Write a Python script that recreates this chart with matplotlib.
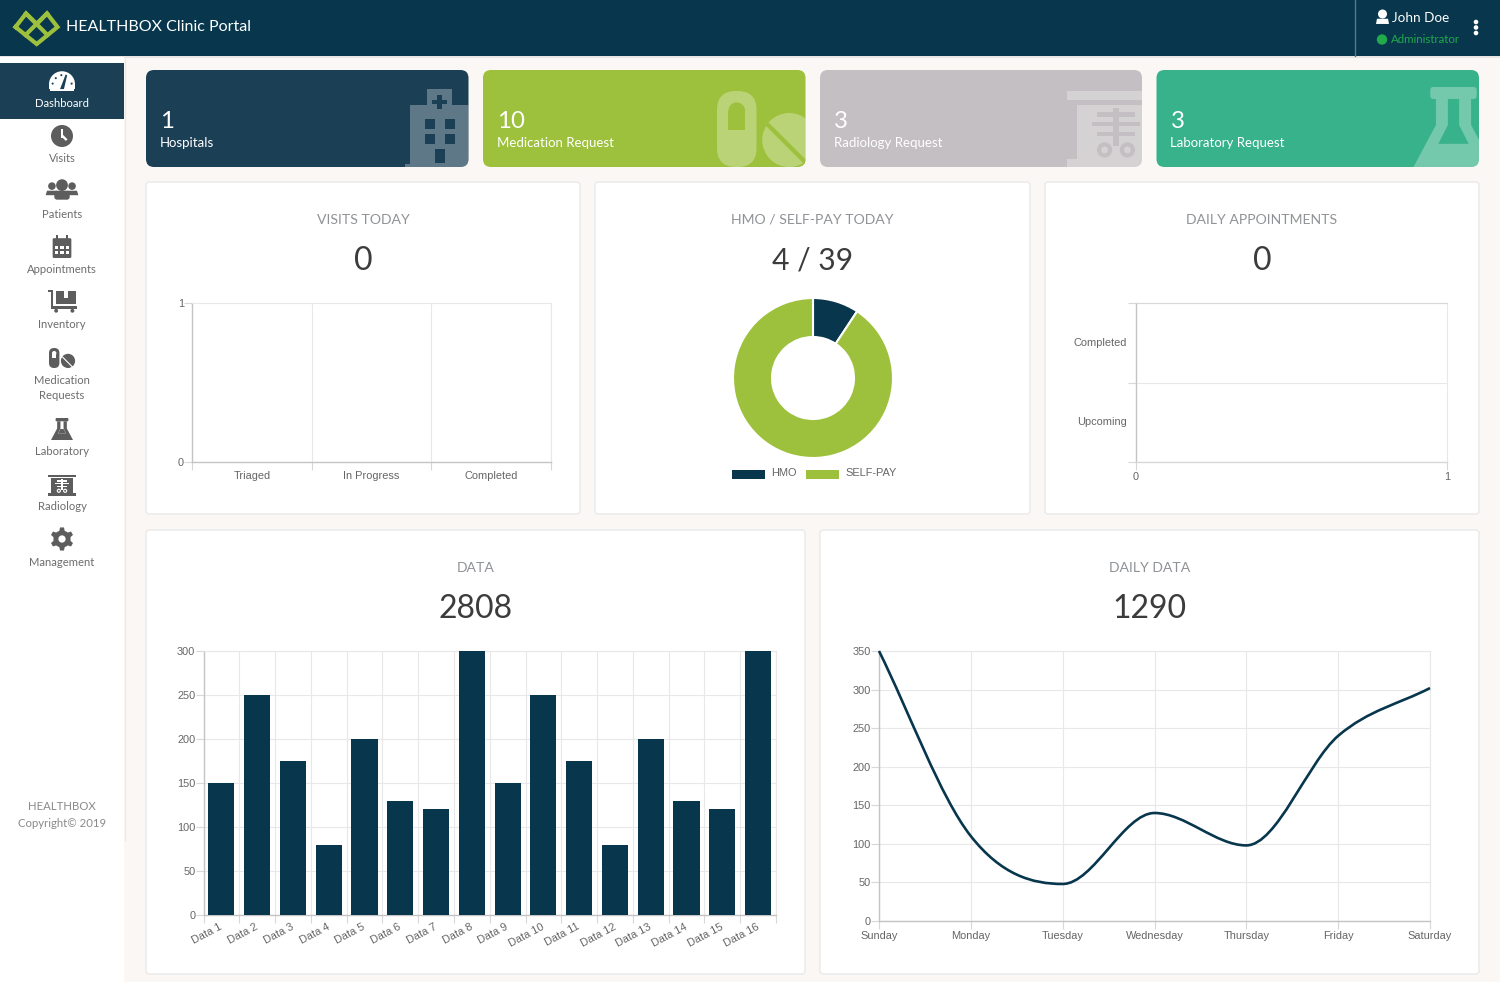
import numpy as np
import matplotlib
matplotlib.use("Agg")
import matplotlib.pyplot as plt
from matplotlib.patches import FancyBboxPatch, Rectangle, Circle, Polygon, Wedge, PathPatch
from matplotlib.path import Path

W, H = 1500, 982
NAVY = "#07364d"
CARD_NAVY = "#1b3f55"
GREEN = "#9dc13c"
GRID = "#e8e8e8"
AXIS = "#c4c4c4"
TICK = "#666666"
UI_FONT = "Lato"
CHART_FONT = "Liberation Sans"

# chart data
visit_labels = ["Triaged", "In Progress", "Completed"]
visit_values = [0, 0, 0]
pay_labels = ["HMO", "SELF-PAY"]
pay_values = [4, 39]
appt_labels = ["Completed", "Upcoming"]
appt_values = [0, 0]
data_labels = ["Data %d" % i for i in range(1, 17)]
data_values = [150, 250, 175, 80, 200, 130, 120, 300, 150, 250, 175, 80, 200, 130, 120, 300]
daily_labels = ["Sunday", "Monday", "Tuesday", "Wednesday", "Thursday", "Friday", "Saturday"]
daily_values = [350, 110, 48, 140, 98, 240, 302]

# page text
card_numbers = ["1", "10", "3", "3"]
card_names = ["Hospitals", "Medication Request", "Radiology Request", "Laboratory Request"]
menu_names = ["Dashboard", "Visits", "Patients", "Appointments", "Inventory",
              "Medication\nRequests", "Laboratory", "Radiology", "Management"]

fig = plt.figure(figsize=(W / 100, H / 100), dpi=100, facecolor="#fbf7f4")
page = fig.add_axes([0, 0, 1, 1])
page.set_xlim(0, W)
page.set_ylim(H, 0)
page.axis("off")


def px(size):
    return size * 0.72


def chart_axes(left, top, right, bottom):
    ax = fig.add_axes([left / W, 1 - bottom / H, (right - left) / W, (bottom - top) / H])
    ax.set_facecolor("none")
    ax.grid(True, color=GRID, lw=0.8)
    ax.set_axisbelow(True)
    for side in ["top", "right"]:
        ax.spines[side].set_color(GRID)
        ax.spines[side].set_linewidth(0.8)
    for side in ["left", "bottom"]:
        ax.spines[side].set_color(AXIS)
        ax.spines[side].set_linewidth(1.0)
    ax.tick_params(colors="#d8d8d8", labelcolor=TICK, labelsize=px(11), length=px(8), width=0.8, pad=1)
    ax.tick_params(axis="y", pad=0)
    ax.tick_params(axis="x", pad=1.7)
    return ax


def tick_font(ax):
    for t in ax.get_xticklabels() + ax.get_yticklabels():
        t.set_fontfamily(CHART_FONT)


def box(x0, y0, x1, y1, color, r=6, ec="none", lw=0, z=1):
    p = FancyBboxPatch((x0 + r, y0 + r), x1 - x0 - 2 * r, y1 - y0 - 2 * r,
                       boxstyle="round,pad=%s,rounding_size=%s" % (r, r),
                       fc=color, ec=ec, lw=lw, zorder=z)
    page.add_patch(p)
    return p


def ui_text(x, y, s, size, color, ha="center", weight="normal", font=UI_FONT, z=5):
    if font == UI_FONT:
        y = y + 0.08 * size
    page.text(x, y, s, fontsize=px(size), color=color, ha=ha, va="center",
              fontfamily=font, fontweight=weight, zorder=z)


# every icon is drawn around (cx, cy), s is half the icon height in pixels
def add(patch, clip, alpha):
    patch.set_zorder(3)
    if alpha is not None:
        patch.set_alpha(alpha)
    page.add_patch(patch)
    if clip is not None:
        patch.set_clip_path(clip)
    return patch


def rect(cx, cy, s, x0, y0, x1, y1, c, clip=None, alpha=None):
    return add(Rectangle((cx + x0 * s, cy + y0 * s), (x1 - x0) * s, (y1 - y0) * s, fc=c, ec="none"), clip, alpha)


def circ(cx, cy, s, x, y, r, c, clip=None, alpha=None):
    return add(Circle((cx + x * s, cy + y * s), r * s, fc=c, ec="none"), clip, alpha)


def poly(cx, cy, s, pts, c, clip=None, alpha=None):
    return add(Polygon([(cx + a * s, cy + b * s) for a, b in pts], closed=True, fc=c, ec="none"), clip, alpha)


def icon_gauge(cx, cy, s, c, bg):
    add(Wedge((cx, cy + 0.25 * s), s, 180, 360, fc=c, ec="none"), None, None)
    rect(cx, cy, s, -1, 0.24, 1, 0.62, c)
    rect(cx, cy, s, -0.9, 0.6, 0.9, 0.8, c)
    for a, b in [(-0.72, 0.2), (-0.48, -0.22), (-0.05, -0.45), (0.74, 0.2)]:
        circ(cx, cy, s, a, b, 0.08, bg)
    poly(cx, cy, s, [(0.28, -0.5), (0.4, -0.45), (0.15, 0.62), (-0.15, 0.62)], bg)


def icon_clock(cx, cy, s, c, bg):
    circ(cx, cy, s, 0, 0, 1, c)
    rect(cx, cy, s, -0.1, -0.6, 0.12, 0.15, bg)
    poly(cx, cy, s, [(-0.1, 0.0), (0.1, -0.1), (0.5, 0.3), (0.35, 0.45)], bg)


def icon_users(cx, cy, s, c, bg):
    for a in [-0.72, 0.72]:
        circ(cx, cy, s, a, -0.35, 0.27, c)
        poly(cx, cy, s, [(a - 0.45, 0.3), (a - 0.35, -0.02), (a + 0.35, -0.02), (a + 0.45, 0.3)], c)
    circ(cx, cy, s, 0, -0.42, 0.42, c)
    box(cx - 0.55 * s, cy - 0.02 * s, cx + 0.55 * s, cy + 0.62 * s, c, r=0.2 * s, z=3)


def icon_calendar(cx, cy, s, c, bg):
    box(cx - 0.85 * s, cy - 0.8 * s, cx + 0.85 * s, cy + 1.0 * s, c, r=0.12 * s, z=3)
    rect(cx, cy, s, -0.55, -1.05, -0.35, -0.6, c)
    rect(cx, cy, s, 0.35, -1.05, 0.55, -0.6, c)
    for a in [-0.48, 0.0, 0.48]:
        for b in [0.05, 0.5]:
            rect(cx, cy, s, a - 0.14, b - 0.12, a + 0.14, b + 0.12, bg)


def icon_cart(cx, cy, s, c, bg):
    rect(cx, cy, s, -1.1, -0.85, -0.75, -0.72, c)
    rect(cx, cy, s, -0.85, -0.85, -0.68, 0.55, c)
    rect(cx, cy, s, -0.85, 0.42, 1.15, 0.58, c)
    rect(cx, cy, s, -0.45, -0.75, 1.05, 0.25, c)
    rect(cx, cy, s, 0.15, -0.75, 0.45, -0.25, bg)
    circ(cx, cy, s, -0.45, 0.75, 0.15, c)
    circ(cx, cy, s, 0.8, 0.75, 0.15, c)


def icon_pills(cx, cy, s, c, bg, clip=None, alpha=None):
    cap = box(cx - 1.3 * s, cy - s, cx - 0.26 * s, cy + s, c, r=0.5 * s, z=3)
    if clip is not None:
        cap.set_clip_path(clip)
        cap.set_alpha(alpha)
    circ(cx, cy, s, -0.78, -0.48, 0.22, bg, clip)
    rect(cx, cy, s, -1.0, -0.48, -0.56, 0.03, bg, clip)
    circ(cx, cy, s, 0.6, 0.29, 0.71, c, clip, alpha)
    poly(cx, cy, s, [(-0.02, -0.09), (0.06, -0.17), (1.11, 0.88), (1.03, 0.96)], bg, clip)


def icon_flask(cx, cy, s, c, bg, clip=None, alpha=None):
    rim = box(cx - 0.58 * s, cy - s, cx + 0.58 * s, cy - 0.7 * s, c, r=0.08 * s, z=3)
    if clip is not None:
        rim.set_clip_path(clip)
        rim.set_alpha(alpha)
    poly(cx, cy, s, [(-0.44, -0.7), (-0.44, -0.05), (-1.0, 1.0), (1.0, 1.0), (0.44, -0.05), (0.44, -0.7),
                     (0.14, -0.7), (0.14, -0.05), (0.38, 0.42), (-0.38, 0.42), (-0.14, -0.05), (-0.14, -0.7)],
         c, clip, alpha)
    if clip is None:
        poly(cx, cy, s, [(-0.38, 0.42), (-0.14, 0.0), (0.14, 0.0), (0.38, 0.42)], c)


def icon_xray(cx, cy, s, c, bg, clip=None, alpha=None):
    rect(cx, cy, s, -1.29, -1.0, 1.29, -0.76, c, clip, alpha)
    rect(cx, cy, s, -1.03, -0.63, 1.03, 0.8, c, clip, alpha)
    rect(cx, cy, s, -1.29, 0.8, 1.29, 1.0, c, clip, alpha)
    rect(cx, cy, s, -0.08, -0.55, 0.08, 0.45, bg, clip)
    for b, w in [(-0.38, 0.5), (-0.13, 0.63), (0.13, 0.5)]:
        rect(cx, cy, s, -w, b - 0.06, w, b + 0.06, bg, clip)
    for a in [-0.3, 0.3]:
        circ(cx, cy, s, a, 0.55, 0.2, bg, clip)
        circ(cx, cy, s, a, 0.55, 0.09, c, clip, alpha)


def icon_gear(cx, cy, s, c, bg):
    for a in np.deg2rad(np.arange(0, 360, 60) + 30):
        ca, sa = np.cos(a), np.sin(a)
        poly(cx, cy, s, [(0.7 * ca - 0.25 * sa, 0.7 * sa + 0.25 * ca), (1.05 * ca - 0.18 * sa, 1.05 * sa + 0.18 * ca),
                         (1.05 * ca + 0.18 * sa, 1.05 * sa - 0.18 * ca), (0.7 * ca + 0.25 * sa, 0.7 * sa - 0.25 * ca)], c)
    circ(cx, cy, s, 0, 0, 0.78, c)
    circ(cx, cy, s, 0, 0, 0.33, bg)


# header
page.add_patch(Rectangle((0, 0), W, 56, fc=NAVY, ec="none", zorder=1))
page.add_patch(Rectangle((0, 56), W, 1.5, fc="#e8e6e4", ec="none", zorder=1))
page.plot([1355, 1355], [0, 56], color="#5a7686", lw=1, zorder=2)
for pts in [[(15.5, 27), (26, 13.5), (36.7, 24), (47, 13.5), (57.5, 27), (36.7, 44), (15.5, 27)],
            [(26, 13.5), (47.5, 35)], [(47, 13.5), (25.5, 35)]]:
    xs, ys = zip(*pts)
    page.plot(xs, ys, color=GREEN, lw=3, solid_joinstyle="miter", zorder=3)
ui_text(66, 26, "HEALTHBOX Clinic Portal", 16, "white", ha="left")
circ(1382.5, 14, 1, 0, 0, 4.5, "white")
poly(1382.5, 22, 6.5, [(-1, 0.3), (-0.85, -0.5), (0.85, -0.5), (1, 0.3)], "white")
ui_text(1392, 16.5, "John Doe", 13.5, "white", ha="left")
circ(1382, 39.5, 1, 0, 0, 5.2, "#21a94b")
ui_text(1391, 39, "Administrator", 11.5, "#21a94b", ha="left")
for b in [22, 27.5, 33]:
    circ(1476, b, 1, 0, 0, 2.3, "white")

# sidebar
page.add_patch(Rectangle((0, 57), 124, H - 57, fc="white", ec="none", zorder=1))
page.plot([124.5, 124.5], [57, 840], color="#ece9e7", lw=1, zorder=1)
page.add_patch(Rectangle((0, 63), 124, 56, fc=CARD_NAVY, ec="none", zorder=2))
menu_y = [103.5, 158.5, 214, 269.5, 325, 388, 451.5, 506.5, 562]
icon_y = [81, 136, 191, 247, 301, 358, 429, 485, 539]
icon_s = [13, 11, 14, 11, 13, 10, 11, 10.5, 11]
icon_fn = [icon_gauge, icon_clock, icon_users, icon_calendar, icon_cart, icon_pills,
           icon_flask, icon_xray, icon_gear]
ICON_C = "#5d5d5d"
for i, name in enumerate(menu_names):
    col = "white" if i == 0 else "#6d6d6d"
    page.text(62, menu_y[i], name, fontsize=px(11.3), color=col, ha="center", va="center",
              fontfamily=UI_FONT, linespacing=1.35, zorder=5)
    if i == 0:
        icon_fn[i](62, icon_y[i], icon_s[i], "white", CARD_NAVY)
    else:
        icon_fn[i](62, icon_y[i], icon_s[i], ICON_C, "white")
ui_text(62, 806, "HEALTHBOX", 11.4, "#8a8a8a")
ui_text(62, 823, "Copyright\u00a9 2019", 11.4, "#8a8a8a")

# cards
card_x = [(146, 468.5), (483, 805.5), (820, 1142), (1156.5, 1479)]
card_c = [CARD_NAVY, GREEN, "#c4bfc2", "#38b28a"]
clips = []
for i in range(4):
    x0, x1 = card_x[i]
    clips.append(box(x0, 70, x1, 167, card_c[i], r=8))
    ui_text(x0 + 14, 120, card_numbers[i], 24, "white", ha="left")
    ui_text(x0 + 14, 142, card_names[i], 13.2, "white", ha="left")

# hospital icon, pixel positions
a = 0.3
rect(0, 0, 1, 410, 105, 469, 167, "white", clips[0], a)
rect(0, 0, 1, 427, 89, 452, 105, "white", clips[0], a)
rect(0, 0, 1, 405, 164, 410, 167, "white", clips[0], a)
rect(0, 0, 1, 437, 95, 442, 109, CARD_NAVY, clips[0])
rect(0, 0, 1, 432, 100, 447, 104, CARD_NAVY, clips[0])
for gx in [425, 445]:
    for gy in [119, 134]:
        rect(0, 0, 1, gx, gy, gx + 10, gy + 10, CARD_NAVY, clips[0])
rect(0, 0, 1, 435, 149, 445, 163, CARD_NAVY, clips[0])
icon_pills(766.4, 129, 38, "white", GREEN, clips[1], a)
icon_xray(1116, 129, 38, "white", "#c4bfc2", clips[2], a)
icon_flask(1453.5, 127, 40, "white", "#38b28a", clips[3], a)

# panels
panels = [(146, 182, 580, 514, "VISITS TODAY", "0"),
          (595, 182, 1030, 514, "HMO / SELF-PAY TODAY", "4 / 39"),
          (1045, 182, 1479, 514, "DAILY APPOINTMENTS", "0"),
          (146, 530, 805, 974, "DATA", "2808"),
          (820, 530, 1479, 974, "DAILY DATA", "1290")]
for x0, y0, x1, y1, title, number in panels:
    box(x0, y0, x1, y1, "white", r=3, ec="#ececec", lw=1.2)
    ui_text((x0 + x1) / 2, y0 + 36.5, title, 14, "#8f9296")
    ui_text((x0 + x1) / 2, y0 + 76.5, number, 32 if "/" not in number else 30, "#3c3c3c")

# visits today
ax = chart_axes(192, 303, 551, 462)
ax.bar(range(3), visit_values, color=NAVY)
ax.set_xlim(-0.5, 2.5)
ax.set_ylim(0, 1)
ax.set_yticks([0, 1])
ax.set_xticks([-0.5, 0.5, 1.5, 2.5], [""] * 4)
for i, name in enumerate(visit_labels):
    ax.text(i, -0.09, name, ha="center", va="center", fontsize=px(11), color=TICK, fontfamily=CHART_FONT)
ax.grid(False, axis="y")
tick_font(ax)

# donut
ax = fig.add_axes([(813 - 90) / W, 1 - (378 + 90) / H, 180 / W, 180 / H])
ax.pie(pay_values, colors=[NAVY, GREEN], startangle=90, counterclock=False, radius=80 / 90,
       wedgeprops={"width": 39 / 90, "edgecolor": "white", "linewidth": 1.5})
ax.set_xlim(-1, 1)
ax.set_ylim(-1, 1)
page.add_patch(Rectangle((732, 469.5), 33, 9, fc=NAVY, ec="none", zorder=3))
page.add_patch(Rectangle((806, 469.5), 33, 9, fc=GREEN, ec="none", zorder=3))
ui_text(771, 473, pay_labels[0], 11, TICK, ha="left", font=CHART_FONT)
ui_text(845, 473, pay_labels[1], 11, TICK, ha="left", font=CHART_FONT)

# daily appointments
ax = chart_axes(1136, 303, 1447, 462)
ax.barh(range(2), appt_values, color=NAVY)
ax.set_ylim(1.5, -0.5)
ax.set_xlim(0, 1)
ax.set_yticks([-0.5, 0.5, 1.5], [""] * 3)
ax.set_xticks([0, 1])
ax.grid(False, axis="x")
ax.spines["bottom"].set_color("#d8d8d8")
ax.spines["top"].set_color("#d8d8d8")
for i, name in enumerate(appt_labels):
    ax.text(-0.029, i, name, ha="right", va="center", fontsize=px(11), color=TICK, fontfamily=CHART_FONT)
tick_font(ax)

# data bars
ax = chart_axes(203.5, 651, 776, 915)
ax.bar(range(16), data_values, width=0.73, color=NAVY, zorder=3)
ax.set_xlim(-0.5, 15.5)
ax.set_ylim(0, 300)
ax.set_yticks(range(0, 301, 50))
ax.set_xticks(np.arange(-0.5, 16, 1), [""] * 17)
for i, name in enumerate(data_labels):
    ax.annotate(name, (i, 0), xytext=(0, -8), textcoords="offset points", rotation=28,
                ha="right", va="center", rotation_mode="anchor", fontsize=px(11), color=TICK,
                fontfamily=CHART_FONT, annotation_clip=False)
tick_font(ax)

# daily line, monotone curve through the points, handles are a third of the step
ax = chart_axes(879, 651, 1430, 921)
ax.set_xlim(0, 6)
ax.set_ylim(0, 350)
ax.set_yticks(range(0, 351, 50))
ax.set_xticks(range(7), daily_labels)
deltas = np.diff(daily_values)
slopes = [deltas[0]]
for i in range(1, 6):
    if deltas[i - 1] * deltas[i] <= 0:
        slopes.append(0)
    else:
        slopes.append((deltas[i - 1] + deltas[i]) / 2)
slopes.append(deltas[-1])
verts = [(0, daily_values[0])]
codes = [Path.MOVETO]
for i in range(6):
    verts += [(i + 1 / 3, daily_values[i] + slopes[i] / 3),
              (i + 2 / 3, daily_values[i + 1] - slopes[i + 1] / 3),
              (i + 1, daily_values[i + 1])]
    codes += [Path.CURVE4] * 3
ax.add_patch(PathPatch(Path(verts, codes), fc="none", ec=NAVY, lw=1.9, clip_on=False, zorder=3))
tick_font(ax)

fig.savefig("out.png", dpi=100, facecolor=fig.get_facecolor())
